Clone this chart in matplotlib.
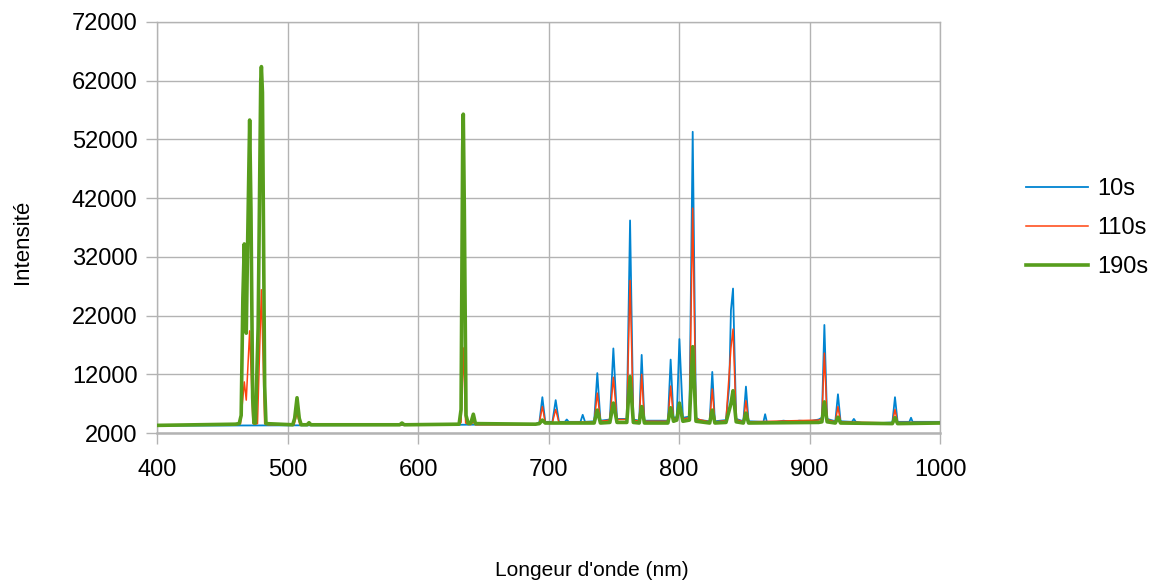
import matplotlib.pyplot as plt
import matplotlib

matplotlib.rcParams['font.family'] = ['Liberation Sans', 'DejaVu Sans']

# values (wavelength nm, intensity)
wl_10s = [400, 500, 600, 690, 693, 695.3, 697.5, 703, 705.5, 708, 712.5, 714, 715.5,
          724.5, 726.2, 728, 735, 737.4, 739.8, 747, 749.7, 752.5, 760, 762.5, 765,
          769.5, 771.4, 773.5, 791.5, 793.6, 795.8, 798.3, 800.3, 803, 808, 810.5, 813,
          816, 823.5, 825.5, 827.5, 836, 838.5, 839.8, 841.4, 843.8, 849.3, 851.3, 853.3,
          864.7, 866, 867.3, 875, 880, 887, 892, 900, 907, 909.5, 911.4, 913.5, 919.8,
          921.8, 923.8, 932.5, 934, 935.5, 943, 950, 955, 963.5, 965.5, 967.5, 976.5,
          977.8, 979, 990, 1000]
int_10s = [3250, 3300, 3350, 3500, 3800, 8100, 3900, 3900, 7600, 3900, 3900, 4300, 3900,
           3900, 5100, 3900, 4000, 12200, 4100, 4300, 16400, 4400, 4400, 38200, 4300,
           4100, 15300, 4100, 4100, 14500, 4600, 4700, 18000, 4600, 4800, 53300, 4600,
           4200, 4000, 12400, 4000, 4200, 10000, 22900, 26600, 4400, 4000, 9900, 4000,
           3900, 5200, 3900, 3900, 4100, 3900, 4100, 4000, 4300, 4600, 20400, 4400, 4000,
           8600, 4000, 3900, 4400, 3900, 3600, 3600, 3700, 3800, 8100, 3900, 3900,
           4600, 3900, 3900, 3900]

wl_110s = [400, 460, 464, 466.9, 468.4, 471, 473.5, 474.5, 477, 480, 482.5, 485, 505,
           507.3, 509.5, 600, 631, 633, 634.7, 636.5, 640, 642.4, 644, 690, 693, 695.3,
           697.5, 703, 705.5, 708, 735, 737.4, 739.8, 747, 749.7, 752.5, 760, 762.5, 765,
           769.5, 771.4, 773.5, 791.5, 793.6, 795.8, 798.3, 800.3, 803, 808, 810.5, 813,
           823.5, 825.5, 827.5, 836, 839.8, 841.4, 843.8, 849.3, 851.3, 853.3, 907, 909.5,
           911.4, 913.5, 919.8, 921.8, 923.8, 963.5, 965.5, 967.5, 1000]
int_110s = [3350, 3400, 3600, 10700, 7600, 19400, 3700, 3500, 3600, 26400, 3600, 3400, 3400,
            5400, 3400, 3400, 3400, 3800, 16500, 3700, 3400, 3900, 3400, 3400, 3700, 6500,
            3800, 3800, 6000, 3800, 3900, 8800, 4000, 4200, 11500, 4300, 4300, 28000, 4200,
            4000, 12000, 4000, 4000, 10000, 4400, 4500, 6000, 4400, 4600, 40300, 4400,
            3900, 9500, 3900, 4100, 16500, 19700, 4300, 3900, 7500, 3900, 4200, 4400,
            15600, 4300, 3900, 6500, 3900, 3700, 6000, 3800, 3800]

wl_190s = [400, 460, 463, 464.5, 465.8, 466.9, 467.8, 468.4, 469.5, 471, 472, 473.3, 474.3,
           475.5, 477.5, 479.5, 480, 480.8, 482.5, 483.5, 504, 505.5, 507.3, 509, 510.5,
           515, 516.5, 518, 586, 587.7, 589.5, 631.5, 633, 634.2, 634.7, 635.5, 636.8,
           638.5, 640.5, 642.4, 644, 690, 693, 695.3, 697.5, 735, 737.4, 739.8, 747,
           749.7, 752.5, 760, 762.5, 765, 769.5, 771.4, 773.5, 791.5, 793.6, 795.8, 798.3,
           800.3, 803, 808, 810.5, 813, 823.5, 825.5, 827.5, 836, 839.8, 841.4, 843.8,
           849.3, 851.3, 853.3, 907, 909.5, 911.4, 913.5, 919.8, 921.8, 923.8, 963.5,
           965.5, 967.5, 1000]
int_190s = [3300, 3500, 3600, 5000, 25000, 34200, 22000, 19000, 35000, 55300, 40000, 8000,
            3700, 3700, 20000, 62000, 64400, 60000, 10000, 3600, 3400, 4500, 8000, 4500,
            3400, 3400, 3750, 3400, 3400, 3700, 3400, 3500, 6000, 50000, 56300, 40000,
            5000, 3600, 3700, 5200, 3600, 3500, 3600, 4200, 3700, 3700, 5900, 3700, 3800,
            7100, 3800, 3800, 11600, 3800, 3700, 6500, 3700, 3700, 6300, 4000, 4200, 7100,
            4000, 4200, 16700, 4000, 3700, 5900, 3700, 3800, 7000, 9200, 3900, 3700, 5400,
            3700, 3800, 3900, 7300, 3900, 3700, 4700, 3700, 3600, 4600, 3600, 3700]

x_ticks = [400, 500, 600, 700, 800, 900, 1000]
y_ticks = [2000, 12000, 22000, 32000, 42000, 52000, 62000, 72000]

fig = plt.figure(figsize=(11.5, 5.81), dpi=100)
ax = fig.add_axes([157 / 1150, 1 - 433 / 581, 783 / 1150, 411 / 581])

ax.plot(wl_10s, int_10s, color='#0084d1', linewidth=1.3, label='10s', zorder=3)
ax.plot(wl_110s, int_110s, color='#ff420e', linewidth=1.1, label='110s', zorder=4)
ax.plot(wl_190s, int_190s, color='#579d1c', linewidth=2.6, label='190s', zorder=5)

ax.set_xlim(400, 1000)
ax.set_ylim(2000, 72000)
ax.set_xticks(x_ticks)
ax.set_yticks(y_ticks)
ax.grid(True, color='#b3b3b3', linewidth=1)
ax.set_axisbelow(True)
for s in ax.spines.values():
    s.set_color('#b3b3b3')
    s.set_linewidth(1)
ax.spines['bottom'].set_linewidth(1.8)
ax.tick_params(axis='both', direction='out', color='#b3b3b3', length=8, width=1,
               labelsize=17, labelcolor='black')
ax.tick_params(axis='x', pad=11)
ax.tick_params(axis='y', pad=6)

fig.text(22 / 1150, 1 - 242 / 581, 'Intensité', rotation=90, ha='center', va='center',
         fontsize=16)
fig.text(592 / 1150, 1 - 570 / 581, "Longeur d'onde (nm)", ha='center', va='center',
         fontsize=15)

ax.legend(loc='center left', bbox_to_anchor=(1005 / 1150, 1 - 228 / 581),
          bbox_transform=fig.transFigure, frameon=False, fontsize=17,
          handlelength=2.6, handletextpad=0.4, labelspacing=0.72)

fig.savefig('out.png', dpi=100)
